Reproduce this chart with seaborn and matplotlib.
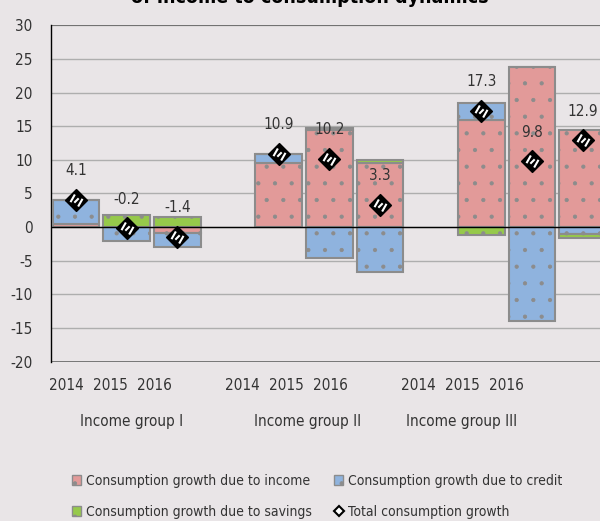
import numpy as np
import matplotlib
matplotlib.use("Agg")
import matplotlib.pyplot as plt
from matplotlib.path import Path
from matplotlib.patches import Patch
from matplotlib.lines import Line2D
import seaborn as sns

# ── Data ──────────────────────────────────────────────
years   = ["2014", "2015", "2016"]
groups  = ["Income group I", "Income group II", "Income group III"]
income  = [0.5, 0.0, -0.9, 9.5, 14.4, 9.6, 15.9, 23.8, 14.5]
credit  = [3.6, -2.0, -2.0, 1.4, -4.6, -6.7, 2.5, -14.0, -1.0]
savings = [0.0, 1.8, 1.5, 0.0, 0.4, 0.4, -1.1, 0.0, -0.6]
total   = [4.1, -0.2, -1.4, 10.9, 10.2, 3.3, 17.3, 9.8, 12.9]
y_ticks = [30, 25, 20, 15, 10, 5, 0, -5, -10, -15, -20]

# ── Style ─────────────────────────────────────────────
BG     = "#E9E5E7"
TXT    = "#333333"
EDGE   = "#8C8C8C"
COLORS = {"income": "#E29A99", "credit": "#8FB3DE", "savings": "#96C94B"}
LABELS = {"income":  "Consumption growth due to income",
          "credit":  "Consumption growth due to credit",
          "savings": "Consumption growth due to savings"}
FS = 11

sns.set_theme(style="white", rc={"figure.facecolor": BG, "axes.facecolor": BG,
                                 "hatch.linewidth": 0.6})
plt.rcParams["font.family"] = ["DejaVu Sans"]
plt.rcParams["font.stretch"] = "condensed"
plt.rcParams["text.color"] = TXT

n_slots = 4 * len(groups) - 1
slots = [4 * g + j for g in range(len(groups)) for j in range(len(years))]

fig = plt.figure(figsize=(6.0, 5.21), dpi=100)
ax = fig.add_axes([0.0845, 0.3058, 0.929, 0.6456])
ax.set_xlim(-0.5, n_slots - 0.5)
ax.set_ylim(-20, 30)

# stacked bars, positives up and negatives down
pos_base = np.zeros(len(slots))
neg_base = np.zeros(len(slots))
for key, vals in [("income", income), ("credit", credit), ("savings", savings)]:
    vals = np.array(vals)
    bottom = np.where(vals >= 0, pos_base, neg_base)
    ax.bar(slots, vals, bottom=bottom, width=0.92, color=COLORS[key],
           edgecolor=EDGE, linewidth=1.5, hatch=".", zorder=3)
    pos_base += np.clip(vals, 0, None)
    neg_base += np.clip(vals, None, 0)

# total markers: black diamond with white diagonal stripes
stripe = Path([(-0.55, -0.15), (-0.15, 0.55), (-0.2, -0.2), (0.2, 0.2),
               (0.15, -0.55), (0.55, 0.15)],
              [Path.MOVETO, Path.LINETO] * 3)
sns.scatterplot(x=slots, y=total, marker="D", s=120, color="black",
                edgecolor="black", linewidth=1.2, zorder=5, ax=ax, legend=False)
ax.scatter(slots, total, marker=stripe, s=75, color="white", linewidths=1.5, zorder=6)

for x, t in zip(slots, total):
    ax.annotate(f"{t:.1f}", (x, t), xytext=(0, 21), textcoords="offset points",
                ha="center", va="center", fontsize=FS, color=TXT, zorder=7)

# grid and frame
ax.set_yticks(y_ticks)
ax.set_yticklabels([str(v) for v in y_ticks], fontsize=FS, color=TXT)
ax.tick_params(axis="y", length=0, pad=13)
ax.grid(axis="y", color="#AEAEAE", linewidth=1.0, zorder=0)
ax.axhline(0, color="black", linewidth=1.0, zorder=4)
ax.axhline(30, color="#666666", linewidth=1.2, zorder=1)
ax.axhline(-20, color="#666666", linewidth=1.2, zorder=1)
for side in ["top", "right", "bottom"]:
    ax.spines[side].set_visible(False)
ax.spines["left"].set_color("black")
ax.spines["left"].set_linewidth(1.0)
ax.set_xticks([])

# category labels sit on their own (narrower) scale
lab = fig.add_axes([0.0733, 0.3058, 0.8067, 0.6456])
lab.set_xlim(-0.5, n_slots - 0.5)
lab.set_ylim(0, 1)
lab.patch.set_visible(False)
for s in lab.spines.values():
    s.set_visible(False)
lab.set_yticks([])
lab.set_xticks(slots)
lab.set_xticklabels(years * len(groups), fontsize=FS, color=TXT)
lab.tick_params(axis="x", length=0, pad=12)
for g, name in enumerate(groups):
    span = [4 * g, min(4 * g + 3, n_slots - 1)]
    lab.text(np.mean(span), -0.178, name, transform=lab.get_xaxis_transform(),
             ha="center", va="center", fontsize=FS, color=TXT)

# title (cut off by the top edge in the source)
fig.text(0.517, 0.995, "of income to consumption dynamics", ha="center",
         va="baseline", fontsize=14, fontweight="bold", color="black")

# legend
handles = [Patch(facecolor=COLORS["income"], edgecolor=EDGE, hatch=".", label=LABELS["income"]),
           Patch(facecolor=COLORS["savings"], edgecolor=EDGE, hatch=".", label=LABELS["savings"]),
           Patch(facecolor=COLORS["credit"], edgecolor=EDGE, hatch=".", label=LABELS["credit"]),
           Line2D([], [], marker="D", color="black", markerfacecolor="white",
                  markeredgecolor="black", markeredgewidth=1.5, markersize=5,
                  linestyle="none", label="Total consumption growth")]
fig.legend(handles=handles, ncol=2, loc="upper left", bbox_to_anchor=(0.108, 0.104),
           frameon=False, fontsize=10, handlelength=0.7, handleheight=0.7,
           handletextpad=0.3, columnspacing=1.6, labelspacing=1.25, borderpad=0)

fig.savefig("out.png", dpi=100, facecolor=BG)
